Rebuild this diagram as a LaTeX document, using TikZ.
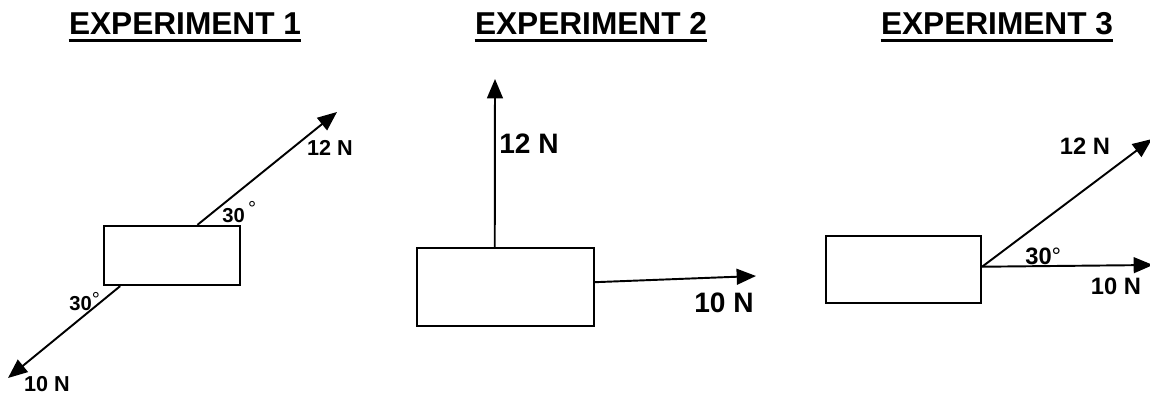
\documentclass[tikz,border=0pt]{standalone}
\usepackage{fontspec}
\setmainfont{Liberation Sans}
\usetikzlibrary{arrows.meta, calc}

\newcommand{\degmark}[1][0.35em]{\raisebox{#1}{\fontseries{m}\selectfont\char"00B0}}

\begin{document}
\begin{tikzpicture}[
  x=0.02cm, y=-0.02cm,
  title/.style={font=\bfseries\fontsize{18}{20}\selectfont, inner sep=0pt, anchor=base},
  rule/.style={line width=1.7pt},
  block/.style={draw, line width=1.3pt, inner sep=0pt},
  force/.style={-{Triangle[length=11pt, width=9pt]}, line width=1.1pt},
  lbl/.style={font=\bfseries\fontsize{#1}{#1}\selectfont, inner sep=0pt},
  lbl/.default=12
]
\useasboundingbox (0,0) rectangle (1150,394);

% titles
\node[title] (titleA) at (185,35) {EXPERIMENT 1};
\node[title] (titleB) at (591,35) {EXPERIMENT 2};
\node[title] (titleC) at (997,35) {EXPERIMENT 3};
\foreach \t in {titleA, titleB, titleC}
  \draw[rule] ([yshift=-3.4pt]\t.base west) -- ([yshift=-3.4pt]\t.base east);

% experiment 1: forces pulling both ways along the slant
\node[block, minimum width=2.72cm, minimum height=1.18cm] (blockA) at (172,255.5) {};
\coordinate (tipA1) at (337,112);
\coordinate (tipA2) at (8,378);
\draw[force] ($(blockA.north west)!0.684!(blockA.north east)$) -- (tipA1);
\draw[force] ($(blockA.south west)!0.125!(blockA.south east)$) -- (tipA2);
\node[lbl=12.3] (fA1) at (330,148) {12 N};
\node[lbl=12.3] (fA2) at (47,384) {10 N};
\node[lbl=11.5, anchor=base west] (angA1) at (222,223) {30\,\degmark};
\node[lbl=11.5, anchor=base west] (angA2) at (69,311) {30\degmark[0.2em]};

% experiment 2: one force up, one to the right
\node[block, minimum width=3.54cm, minimum height=1.56cm] (blockB) at (505.5,287) {};
\coordinate (tipB1) at (495,79);
\coordinate (tipB2) at (756,276);
\draw[force] ($(blockB.north west)!0.44!(blockB.north east)$) -- (tipB1);
\draw[force] ($(blockB.north east)!0.44!(blockB.south east)$) -- (tipB2);
\node[lbl=16] (fB1) at (529,144) {12 N};
\node[lbl=16] (fB2) at (724,303) {10 N};

% experiment 3: both forces from one point, 30 deg apart
\node[block, minimum width=3.1cm, minimum height=1.34cm] (blockC) at (903.5,269.5) {};
\coordinate (pivot) at ($(blockC.north east)!0.46!(blockC.south east)$);
\coordinate (tipC1) at (1152,139);
\coordinate (tipC2) at (1153,265);
\draw[force] (pivot) -- (tipC1);
\draw[force] (pivot) -- (tipC2);
\node[lbl=13.5] (fC1) at (1085,146) {12 N};
\node[lbl=13.5] (fC2) at (1116,286) {10 N};
\node[lbl=13.5, anchor=base west] (angC) at (1025,265) {30\degmark[0pt]};
\end{tikzpicture}
\end{document}
